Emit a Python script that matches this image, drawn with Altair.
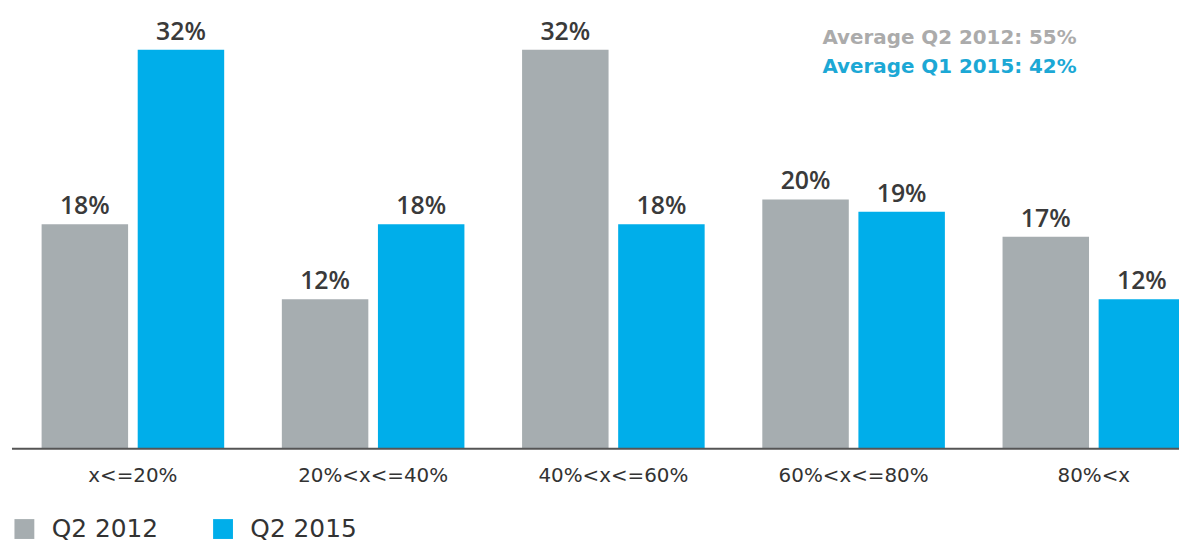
import altair as alt
import pandas as pd

categories = ["x<=20%", "20%<x<=40%", "40%<x<=60%", "60%<x<=80%", "80%<x"]
series = ["Q2 2012", "Q2 2015"]
values_2012 = [18, 12, 32, 20, 17]
values_2015 = [32, 18, 18, 19, 12]
colors = ["#A6ADB0", "#00AEEA"]
notes = ["Average Q2 2012: 55%", "Average Q1 2015: 42%"]
note_colors = ["#ABABAB", "#1CA8D5"]

rows = []
for c, a, b in zip(categories, values_2012, values_2015):
    rows.append({"cat": c, "series": series[0], "value": a, "label": f"{a}%"})
    rows.append({"cat": c, "series": series[1], "value": b, "label": f"{b}%"})
df = pd.DataFrame(rows)

FONT = "DejaVu Sans"
VFONT = "Open Sans"

x_enc = alt.X("cat:N", sort=categories, title=None,
              scale=alt.Scale(range=[29, 1190], paddingInner=0.2, paddingOuter=0),
              axis=alt.Axis(domain=False, ticks=False, labelFontSize=20, labelColor="#333333",
                            labelPadding=17, labelFont=FONT, labelAngle=0))
xo_enc = alt.XOffset("series:N", sort=series,
                     scale=alt.Scale(paddingInner=0.1, paddingOuter=0.05))
y_enc = alt.Y("value:Q", scale=alt.Scale(domain=[0, 35.2], nice=False), axis=None)

base = alt.Chart(df)

bars = base.mark_bar().encode(
    x=x_enc, xOffset=xo_enc, y=y_enc,
    color=alt.Color("series:N", sort=series,
                    scale=alt.Scale(domain=series, range=colors),
                    legend=alt.Legend(title=None, orient="none", legendX=4, legendY=510,
                                      direction="horizontal", symbolType="square",
                                      symbolSize=400, symbolStrokeWidth=0, symbolOpacity=1,
                                      labelFontSize=25, labelColor="#333333", labelFont=FONT,
                                      labelOffset=15, columnPadding=52, padding=0,
                                      labelLimit=300)),
)

labels = base.mark_text(baseline="bottom", dy=-5, fontSize=25, font=VFONT,
                        color="#3A3A3A", fontWeight=600).encode(
    x=x_enc, xOffset=xo_enc, y=y_enc, text="label:N")

baseline_df = pd.DataFrame({"v": [0]})
rule = alt.Chart(baseline_df).mark_rule(color="#555555", strokeWidth=2).encode(
    y=alt.Y("v:Q", scale=alt.Scale(domain=[0, 35.2], nice=False), axis=None),
    x=alt.value(4), x2=alt.value(1179))

notes_df = pd.DataFrame({"text": notes, "color": note_colors, "ypos": [34, 64]})
note_marks = alt.Chart(notes_df).mark_text(align="left", baseline="alphabetic", fontSize=20,
                                           font=FONT, fontWeight="bold").encode(
    x=alt.value(820), y=alt.Y("ypos:Q", scale=None), text="text:N",
    color=alt.Color("color:N", scale=None))

chart = alt.layer(bars, labels, rule, note_marks).resolve_scale(color="independent").properties(
    width=1179, height=442,
    autosize=alt.AutoSizeParams(type="none"),
    padding={"left": 0, "top": 0, "right": 0, "bottom": 96},
).configure_view(stroke=None)

chart.save("out.html", embed_options={"renderer": "svg", "actions": False})
